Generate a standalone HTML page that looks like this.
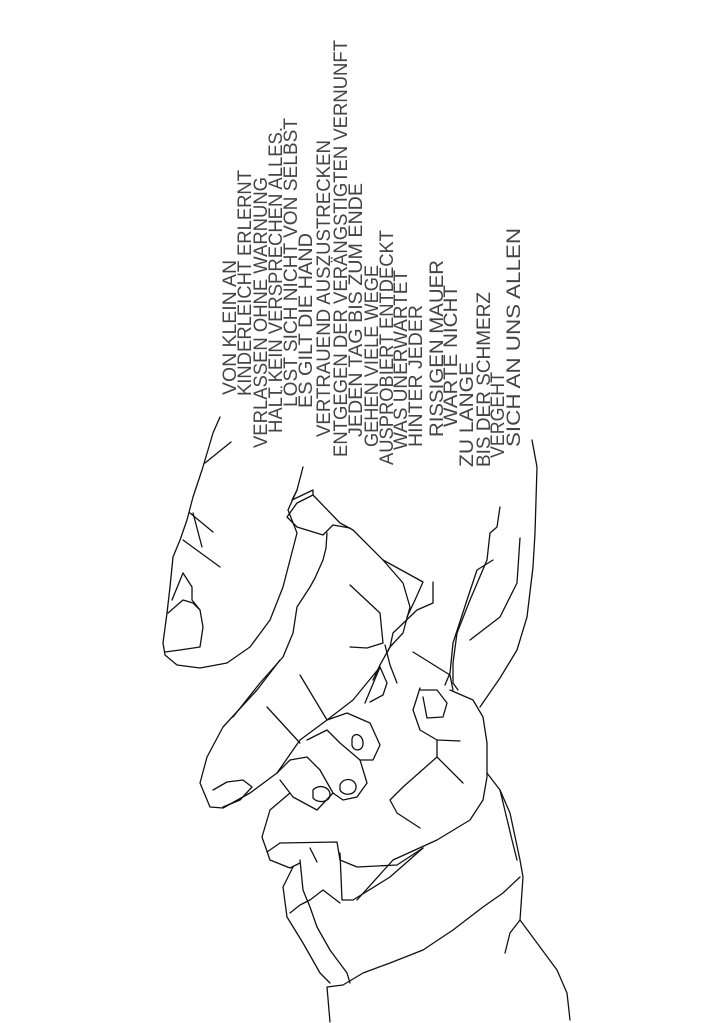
<!DOCTYPE html>
<html><head><meta charset="utf-8"><style>
html,body{margin:0;padding:0;background:#fff;}
svg{display:block;}
text{font-family:"Liberation Sans",sans-serif;font-size:19px;fill:#444;}
path{fill:none;stroke:#111;stroke-width:1.3;stroke-linecap:round;stroke-linejoin:round;}
</style></head><body>
<svg width="724" height="1023" viewBox="0 0 724 1023" xmlns="http://www.w3.org/2000/svg">
<g>
<text transform="translate(236,395) rotate(-90)" textLength="135" lengthAdjust="spacingAndGlyphs">VON KLEIN AN</text>
<text transform="translate(251,396) rotate(-90)" textLength="226" lengthAdjust="spacingAndGlyphs">KINDERLEICHT ERLERNT</text>
<text transform="translate(267,448) rotate(-90)" textLength="271" lengthAdjust="spacingAndGlyphs">VERLASSEN OHNE WARNUNG</text>
<text transform="translate(282,433) rotate(-90)" textLength="306" lengthAdjust="spacingAndGlyphs">HALT KEIN VERSPRECHEN ALLES.</text>
<text transform="translate(297,407) rotate(-90)" textLength="289" lengthAdjust="spacingAndGlyphs">LÖST SICH NICHT VON SELBST</text>
<text transform="translate(312,408) rotate(-90)" textLength="175" lengthAdjust="spacingAndGlyphs">ES GILT DIE HAND</text>
<text transform="translate(330,437) rotate(-90)" textLength="297" lengthAdjust="spacingAndGlyphs">VERTRAUEND AUSZUSTRECKEN</text>
<text transform="translate(347,457) rotate(-90)" textLength="417" lengthAdjust="spacingAndGlyphs">ENTGEGEN DER VERÄNGSTIGTEN VERNUNFT</text>
<text transform="translate(362,437) rotate(-90)" textLength="254" lengthAdjust="spacingAndGlyphs">JEDEN TAG BIS ZUM ENDE</text>
<text transform="translate(378,447) rotate(-90)" textLength="182" lengthAdjust="spacingAndGlyphs">GEHEN VIELE WEGE</text>
<text transform="translate(393,465) rotate(-90)" textLength="235" lengthAdjust="spacingAndGlyphs">AUSPROBIERT ENTDECKT</text>
<text transform="translate(407,450) rotate(-90)" textLength="180" lengthAdjust="spacingAndGlyphs">WAS UNERWARTET</text>
<text transform="translate(422,447) rotate(-90)" textLength="142" lengthAdjust="spacingAndGlyphs">HINTER JEDER</text>
<text transform="translate(443,437) rotate(-90)" textLength="177" lengthAdjust="spacingAndGlyphs">RISSIGEN MAUER</text>
<text transform="translate(457,427) rotate(-90)" textLength="142" lengthAdjust="spacingAndGlyphs">WARTE NICHT</text>
<text transform="translate(473,467) rotate(-90)" textLength="105" lengthAdjust="spacingAndGlyphs">ZU LANGE</text>
<text transform="translate(490,467) rotate(-90)" textLength="175" lengthAdjust="spacingAndGlyphs">BIS DER SCHMERZ</text>
<text transform="translate(504,458) rotate(-90)" textLength="86" lengthAdjust="spacingAndGlyphs">VERGEHT</text>
<text transform="translate(520,447) rotate(-90)" textLength="219" lengthAdjust="spacingAndGlyphs">SICH AN UNS ALLEN</text>
</g>
<g>
<path d="M220,417 L213,433 L208,450 L202,470 L193,497 L187,520 L180,540 L173,557 L170,587 L167,613 L163,643 L165,655 L177,665 L200,668 L227,663 L250,647 L270,620 L283,587 L290,560 L297,533 L288,510 L297,490 L303,467"/>
<path d="M231,442 L205,463"/>
<path d="M190,513 L213,532"/>
<path d="M183,540 L220,567"/>
<path d="M193,513 L202,547"/>
<path d="M183,573 L192,587 L192,600 L200,610 L203,627 L200,647 L180,650 L165,652"/>
<path d="M168,613 L183,600 L193,603 L200,610"/>
<path d="M183,573 L172,600"/>
<path d="M313,495 L340,523 L353,530 L383,560 L423,582 L415,600 L407,617"/>
<path d="M297,490 L292,500 L313,490 L313,495 L297,503 L287,517 L297,527 L323,535 L333,525 L350,528"/>
<path d="M327,533 L326,548 L323,560 L315,578 L310,587 L297,607 L293,633 L283,657 L260,683 L233,717"/>
<path d="M350,585 L380,613 L383,643 L367,648 L350,647"/>
<path d="M383,560 L403,583 L410,607 L403,633 L390,647 L387,653"/>
<path d="M433,582 L433,603 L417,610 L393,633 L390,647 L380,665 L373,680"/>
<path d="M385,645 L390,665 L397,683"/>
<path d="M413,652 L450,675 L453,690"/>
<path d="M532,440 L537,467 L535,533 L533,567 L527,617 L517,650 L500,678 L480,707"/>
<path d="M500,507 L497,527 L490,533 L487,560 L470,600 L457,633 L453,663 L453,683 L458,690"/>
<path d="M520,538 L517,583 L500,617 L470,640"/>
<path d="M493,560 L477,570 L467,600 L453,643 L450,673 L445,685"/>
<path d="M280,660 L257,690 L223,727 L207,757 L200,783 L210,807 L223,808 L250,793 L277,773 L300,740 L327,720 L353,700 L380,667"/>
<path d="M213,790 L227,782 L243,780 L252,787 L240,800 L223,807"/>
<path d="M277,773 L290,760 L307,757 L320,770 L333,793 L317,810 L293,797 L280,780"/>
<path d="M313,790 C318,784 330,786 330,795 C330,802 318,804 313,798 Z"/>
<path d="M307,740 L327,730 L340,743 L360,760 L367,783 L357,797 L343,800 L333,793"/>
<path d="M340,785 C343,777 355,778 356,786 C357,795 344,797 340,790 Z"/>
<path d="M327,720 L347,713 L370,723 L380,745 L373,760 L360,760"/>
<path d="M352,740 C352,732 362,733 363,742 C364,752 353,752 352,745 Z"/>
<path d="M365,703 L380,667 L387,683 L383,695 L370,702"/>
<path d="M267,707 L300,743"/>
<path d="M300,675 L327,720"/>
<path d="M290,793 L270,810 L262,837 L270,860 L290,868 L300,863"/>
<path d="M267,852 L280,843 L337,842 L340,860 L357,867 L397,865 L423,848"/>
<path d="M310,848 L317,862"/>
<path d="M420,688 L413,710 L420,730 L437,740 L437,757 L463,783"/>
<path d="M420,690 L437,690 L447,703 L443,717 L427,718 L423,697"/>
<path d="M450,690 L473,700 L483,717 L487,743 L487,777 L483,800 L470,820 L437,840 L393,860 L357,900"/>
<path d="M437,757 L403,787 L390,800 L397,813 L420,828"/>
<path d="M437,740 L460,741"/>
<path d="M487,773 L500,790 L510,813 L520,860 L523,877 L520,920 L540,947 L557,970 L567,993 L570,1020"/>
<path d="M500,790 L512,840 L517,860"/>
<path d="M520,920 L510,933 L505,953"/>
<path d="M520,877 L503,893 L483,907 L453,930 L423,950 L390,963 L363,973 L343,985 L327,987 L330,1022"/>
<path d="M300,860 L303,890 L310,907 L317,927 L330,950 L347,973 L350,983"/>
<path d="M293,867 L283,887 L287,917 L303,943 L320,973 L330,983"/>
<path d="M290,913 L300,905 L310,900 L323,890 L340,903"/>
<path d="M340,853 L342,900 L353,900 L390,877 L423,848"/>
</g>
</svg>
</body></html>
